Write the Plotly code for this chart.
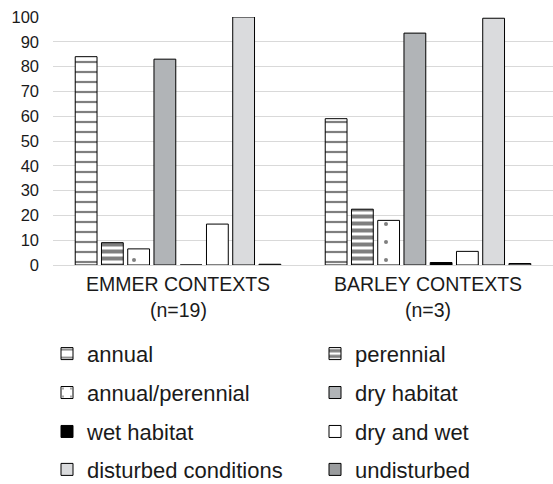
import plotly.graph_objects as go

categories = ["EMMER CONTEXTS", "BARLEY CONTEXTS"]
sample_sizes = ["(n=19)", "(n=3)"]
series_names = ["annual", "perennial", "annual/perennial", "dry habitat",
                "wet habitat", "dry and wet", "disturbed conditions", "undisturbed"]
annual = [84, 59]
perennial = [9, 22.5]
annual_perennial = [6.5, 18]
dry_habitat = [83, 93.5]
wet_habitat = [0, 1]
dry_and_wet = [16.5, 5.5]
disturbed = [100, 99.5]
undisturbed = [0.3, 0.6]
y_ticks = list(range(0, 101, 10))

values = [annual, perennial, annual_perennial, dry_habitat,
          wet_habitat, dry_and_wet, disturbed, undisturbed]

styles = [
    dict(color="white", pattern=dict(shape="-", fgcolor="black", bgcolor="white", size=10, solidity=0.22)),
    dict(color="white", pattern=dict(shape="-", fgcolor="black", bgcolor="white", size=7, solidity=0.57)),
    dict(color="white", pattern=dict(shape=".", fgcolor="black", bgcolor="white", size=18, solidity=0.04)),
    dict(color="#B1B4B7"),
    dict(color="black"),
    dict(color="white"),
    dict(color="#DADBDD"),
    dict(color="#9A9C9E"),
]

# legend placement (paper coords): two columns, four rows
col_x = [-0.012, 0.524]
row_y = [-0.358, -0.515, -0.672, -0.825]

fig = go.Figure()
layout_legends = {}
for i, (name, vals, st) in enumerate(zip(series_names, values, styles)):
    marker = dict(line=dict(color="black", width=1))
    marker.update(st)
    key = "legend" if i == 0 else f"legend{i + 1}"
    fig.add_trace(go.Bar(x=categories, y=vals, name=name, marker=marker, legend=key))
    layout_legends[key] = dict(
        x=col_x[i % 2], xanchor="left", y=row_y[i // 2], yanchor="middle",
        font=dict(size=22, color="#1a1a1a"), bgcolor="rgba(0,0,0,0)",
    )

for cat, n in zip(categories, sample_sizes):
    fig.add_annotation(x=cat, xref="x", y=-0.182, yref="paper", yanchor="middle",
                       text=n, showarrow=False, font=dict(size=19.5, color="#1a1a1a"))

fig.update_layout(
    width=553, height=484,
    margin=dict(l=53, r=0, t=17, b=219, autoexpand=False),
    barmode="group", bargap=0.16, bargroupgap=0.17,
    plot_bgcolor="white", paper_bgcolor="white",
    font=dict(family="Liberation Sans, Arial", color="#1a1a1a"),
    yaxis=dict(range=[0, 100], tickvals=y_ticks, gridcolor="#D9D9D9",
               tickfont=dict(size=16.5, color="#1a1a1a"), ticks="", zeroline=False,
               showline=False, ticklabelstandoff=13),
    xaxis=dict(tickfont=dict(size=19.5, color="#1a1a1a"), showline=True,
               linecolor="#D9D9D9", linewidth=1, ticks="", ticklabelstandoff=2),
    showlegend=True,
    **layout_legends,
)

fig.write_html("out.html", config={"displayModeBar": False},
               post_script="document.body.style.margin='0';")
